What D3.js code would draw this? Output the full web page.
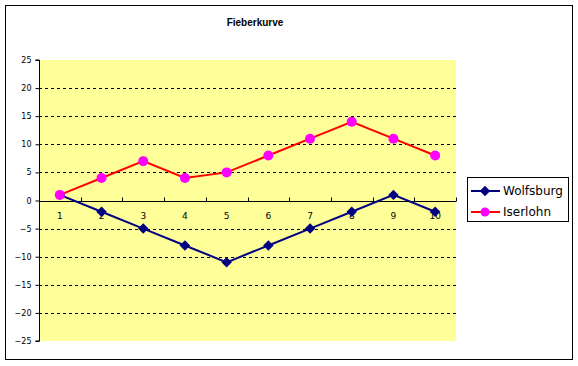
<!DOCTYPE html>
<html>
<head>
<meta charset="utf-8">
<script src="https://cdn.jsdelivr.net/npm/d3@7"></script>
<style>
  body { margin: 0; background: #fff; }
</style>
</head>
<body>
<script>
var width = 578;
var height = 366;

// data
var days = [1, 2, 3, 4, 5, 6, 7, 8, 9, 10];
var wolfsburg = [1, -2, -5, -8, -11, -8, -5, -2, 1, -2];
var iserlohn = [1, 4, 7, 4, 5, 8, 11, 14, 11, 8];
var yTicks = [-25, -20, -15, -10, -5, 0, 5, 10, 15, 20, 25];
var seriesNames = ["Wolfsburg", "Iserlohn"];

var svg = d3.select("body").append("svg")
  .attr("width", width)
  .attr("height", height)
  .style("font-family", "DejaVu Sans, Arial, sans-serif");

// outer frame
svg.append("rect")
  .attr("x", 5.5).attr("y", 5.5)
  .attr("width", 567).attr("height", 354)
  .attr("fill", "#fff")
  .attr("stroke", "#000")
  .attr("stroke-width", 1);

var plot = {left: 39, right: 456, top: 60, bottom: 341};

var x = d3.scaleBand()
  .domain(days)
  .range([plot.left, plot.right]);

var y = d3.scaleLinear()
  .domain([-25, 25])
  .range([plot.bottom, plot.top]);

// plot background
svg.append("rect")
  .attr("x", plot.left).attr("y", plot.top)
  .attr("width", plot.right - plot.left)
  .attr("height", plot.bottom - plot.top)
  .attr("fill", "#ffff99");

// dashed gridlines
svg.append("g")
  .selectAll("line")
  .data(yTicks.filter(function(d) { return d != 0 && d != 25 && d != -25; }))
  .enter().append("line")
  .attr("x1", plot.left).attr("x2", plot.right)
  .attr("y1", function(d) { return Math.round(y(d)) + 0.5; })
  .attr("y2", function(d) { return Math.round(y(d)) + 0.5; })
  .attr("stroke", "#000")
  .attr("stroke-dasharray", "3,3");

// y axis
var yAxis = svg.append("g")
  .attr("transform", "translate(" + (plot.left + 0.5) + ",0)")
  .call(d3.axisLeft(y).tickValues(yTicks).tickSize(4).tickPadding(4));
yAxis.select(".domain").attr("d", "M-4," + plot.top + "H0V" + plot.bottom + "H-4");
yAxis.selectAll("text")
  .attr("font-size", 8)
  .attr("font-family", "DejaVu Sans, Arial, sans-serif")
  .attr("fill", "#000");

// x axis at zero
var y0 = Math.round(y(0)) + 0.5;
svg.append("line")
  .attr("x1", plot.left).attr("x2", plot.right)
  .attr("y1", y0).attr("y2", y0)
  .attr("stroke", "#000");

svg.append("g")
  .selectAll("line")
  .data(days)
  .enter().append("line")
  .attr("x1", function(d) { return Math.round(x(d) + x.bandwidth()) + 0.5; })
  .attr("x2", function(d) { return Math.round(x(d) + x.bandwidth()) + 0.5; })
  .attr("y1", y0).attr("y2", y0 - 4)
  .attr("stroke", "#000");

svg.append("g")
  .selectAll("text")
  .data(days)
  .enter().append("text")
  .attr("x", function(d) { return x(d) + x.bandwidth() / 2; })
  .attr("y", y0 + 17)
  .attr("text-anchor", "middle")
  .attr("font-size", 9)
  .text(function(d) { return d; });

// lines
var cx = function(d, i) { return x(days[i]) + x.bandwidth() / 2; };
var line = d3.line()
  .x(cx)
  .y(function(d) { return y(d); });

svg.append("path")
  .datum(wolfsburg)
  .attr("d", line)
  .attr("fill", "none")
  .attr("stroke", "#000080")
  .attr("stroke-width", 2);

svg.append("path")
  .datum(iserlohn)
  .attr("d", line)
  .attr("fill", "none")
  .attr("stroke", "#ff0000")
  .attr("stroke-width", 2);

var diamond = d3.symbol().type(d3.symbolDiamond2).size(70);

svg.append("g")
  .selectAll("path")
  .data(wolfsburg)
  .enter().append("path")
  .attr("d", diamond)
  .attr("transform", function(d, i) { return "translate(" + cx(d, i) + "," + y(d) + ")"; })
  .attr("fill", "#000080");

svg.append("g")
  .selectAll("circle")
  .data(iserlohn)
  .enter().append("circle")
  .attr("cx", cx)
  .attr("cy", function(d) { return y(d); })
  .attr("r", 5)
  .attr("fill", "#ff00ff");

// title
svg.append("text")
  .attr("x", 255)
  .attr("y", 26)
  .attr("text-anchor", "middle")
  .style("font-family", "Liberation Sans, Arial, sans-serif")
  .style("font-size", "10px")
  .style("font-weight", "bold")
  .text("Fieberkurve");

// legend
var legend = svg.append("g");
legend.append("rect")
  .attr("x", 467.5).attr("y", 177.5)
  .attr("width", 101).attr("height", 44)
  .attr("fill", "#fff")
  .attr("stroke", "#000");

var colors = {"Wolfsburg": "#000080", "Iserlohn": "#ff0000"};
var markColors = {"Wolfsburg": "#000080", "Iserlohn": "#ff00ff"};

seriesNames.forEach(function(name, i) {
  var ly = 191 + i * 21;
  legend.append("line")
    .attr("x1", 471).attr("x2", 500)
    .attr("y1", ly).attr("y2", ly)
    .attr("stroke", colors[name])
    .attr("stroke-width", 2);
  if (i == 0) {
    legend.append("path")
      .attr("d", diamond)
      .attr("transform", "translate(485," + ly + ")")
      .attr("fill", markColors[name]);
  } else {
    legend.append("circle")
      .attr("cx", 485).attr("cy", ly).attr("r", 4.5)
      .attr("fill", markColors[name]);
  }
  legend.append("text")
    .attr("x", 503)
    .attr("y", ly + 4)
    .attr("font-size", 12)
    .attr("fill", "#000")
    .text(name);
});
</script>
</body>
</html>
